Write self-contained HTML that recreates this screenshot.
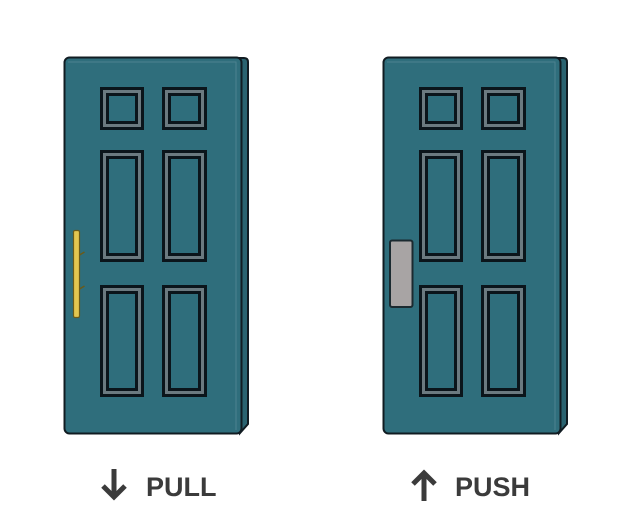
<!DOCTYPE html>
<html><head><meta charset="utf-8"><style>
html,body{margin:0;padding:0;background:#fff;width:619px;height:514px;overflow:hidden}
svg{display:block}
text{font-family:"Liberation Sans","DejaVu Sans",sans-serif;font-weight:bold;fill:#3b3b3b}
</style></head><body>
<svg width="619" height="514" viewBox="0 0 619 514">
<defs>
<g id="panel-s">
</g>
</defs>
<g id="door-left"></g>
<g id="door-right" transform="translate(319,0)"></g>

<rect x="73.5" y="230.5" width="6" height="87" rx="1.5" fill="#e3c650" stroke="#6a5a1a" stroke-width="1.2"/>
<path d="M79.5 255 l5 -3 M79.5 289 l5 -3" stroke="#6a5a1a" stroke-width="1.5" fill="none"/>

<rect x="390" y="240.5" width="22.5" height="66.5" rx="2" fill="#a8a4a4" stroke="#1b2a30" stroke-width="2"/>

<g>
<path d="M114 469 V496 M103 486 L114 497 L125 486" stroke="#3b3b3b" stroke-width="5" fill="none"/>
<text x="146" y="496" font-size="27">PULL</text>
</g>
<g>
<path d="M424 501 V474 M413 484 L424 473 L435 484" stroke="#3b3b3b" stroke-width="5" fill="none"/>
<text x="455" y="496" font-size="27">PUSH</text>
</g>
</svg>
<script>
function buildDoor(g){
  const ns="http://www.w3.org/2000/svg";
  const add=(tag,attrs)=>{const e=document.createElementNS(ns,tag);for(const k in attrs)e.setAttribute(k,attrs[k]);g.appendChild(e);return e;};
  const side=add('path',{d:'M236 58 L244 58 Q248 58 248 62 L248 424 L240 433 Z',fill:'#2a6370',stroke:'#111c22','stroke-width':2});
  
  
  const face=add('rect',{x:64.5,y:57.5,width:177,height:376,rx:5,fill:'#2f6e7c',stroke:'#111c22','stroke-width':2});
  
  
  add('path',{d:'M68 62 H236 V430',stroke:'#4c8290','stroke-width':1,fill:'none'});
  const panels=[[100,87,44,43],[162,87,45,43],[100,150,44,112],[162,150,45,112],[100,285,44,112],[162,285,45,112]];
  panels.forEach(p=>{
    const r=add('rect',{x:p[0]+1.5,y:p[1]+1.5,width:p[2]-3,height:p[3]-3,fill:'#6b7a80',stroke:'#0b151b','stroke-width':3});
    
    
    add('rect',{x:p[0]+7.5,y:p[1]+7.5,width:p[2]-15,height:p[3]-15,fill:'#2f6e7c',stroke:'#0b151b','stroke-width':3});
  });
}
buildDoor(document.getElementById('door-left'));
buildDoor(document.getElementById('door-right'));
</script>
</body></html>
